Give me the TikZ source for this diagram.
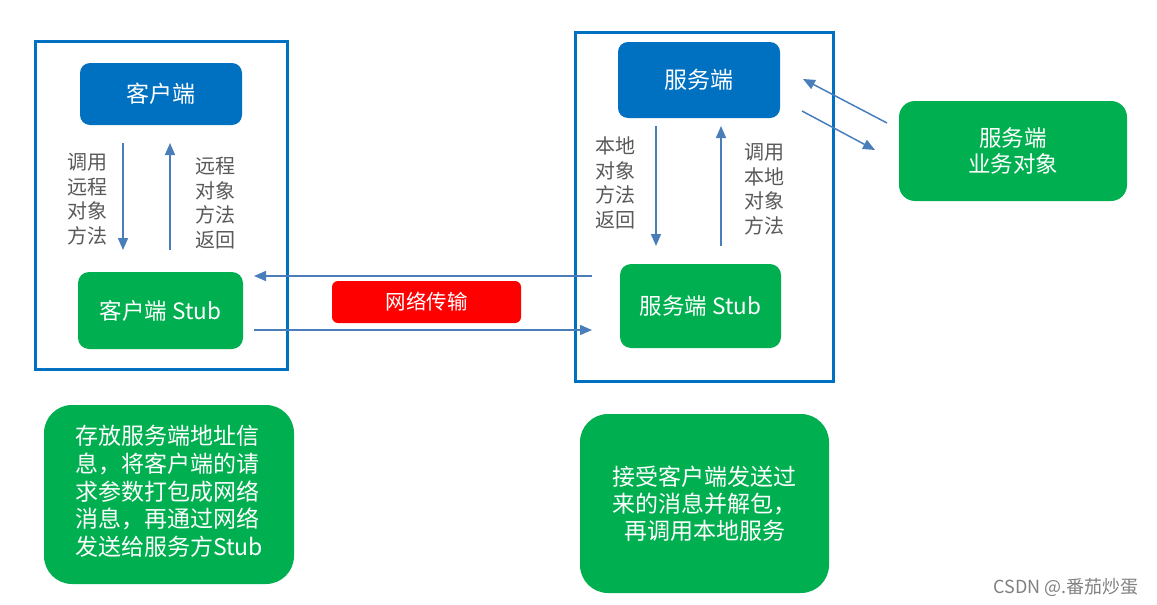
\documentclass[tikz,border=0pt]{standalone}
\usepackage{fontspec}
\setmainfont{Noto Sans CJK SC}
\usetikzlibrary{arrows.meta}
\definecolor{boxblue}{HTML}{0070C0}
\definecolor{boxgreen}{HTML}{00B050}
\definecolor{arrblue}{HTML}{4A7EBB}
\definecolor{labgray}{HTML}{595959}
\definecolor{netred}{HTML}{FF0000}
\begin{document}
\begin{tikzpicture}[x=1pt,y=-1pt,
  bluebox/.style={fill=boxblue,rounded corners=10pt,text=white,inner sep=0pt,font=\fontsize{23}{26}\selectfont},
  greenbox/.style={fill=boxgreen,rounded corners=11pt,text=white,inner sep=0pt,font=\fontsize{22.5}{26}\selectfont},
  notebox/.style={fill=boxgreen,rounded corners=28pt,text=white,inner sep=0pt,font=\fontsize{23}{26.8}\selectfont},
  lab/.style={text=labgray,align=center,inner sep=0pt,font=\fontsize{20}{24.5}\selectfont},
  arr/.style={draw=arrblue,line width=1.5pt,-{Triangle[length=12pt,width=10pt]}}]
\useasboundingbox (0,0) rectangle (1157,605);
% frames
\node[draw=boxblue,line width=3pt,minimum width=252pt,minimum height=328pt,inner sep=0pt] (frameL) at (161,205) {};
\node[draw=boxblue,line width=3pt,minimum width=258pt,minimum height=349pt,inner sep=0pt] (frameR) at (704,206.5) {};
% client side
\node[bluebox,minimum width=162pt,minimum height=62pt] (client) at (161,94) {客户端};
\node[greenbox,minimum width=165pt,minimum height=77pt] (cstub) at (160.5,310.5) {客户端 Stub};
\coordinate (cd1) at (123,143); \coordinate (cd2) at (123,250);
\coordinate (cu1) at (170,250); \coordinate (cu2) at (170,143);
\draw[arr] (cd1) -- (cd2);
\draw[arr] (cu1) -- (cu2);
\node[lab] (lcl) at (87,199) {调用\\远程\\对象\\方法};
\node[lab] (lcr) at (215,203) {远程\\对象\\方法\\返回};
% server side
\node[bluebox,minimum width=162pt,minimum height=76pt] (server) at (699,80) {服务端};
\node[greenbox,minimum width=161pt,minimum height=84pt] (sstub) at (700.5,306) {服务端 Stub};
\coordinate (sd1) at (656,126); \coordinate (sd2) at (656,246);
\coordinate (su1) at (721,246); \coordinate (su2) at (721,126);
\draw[arr] (sd1) -- (sd2);
\draw[arr] (su1) -- (su2);
\node[lab] (lsl) at (615,183) {本地\\对象\\方法\\返回};
\node[lab] (lsr) at (764,189) {调用\\本地\\对象\\方法};
% network
\node[fill=netred,rounded corners=6pt,text=white,inner sep=0pt,minimum width=189pt,minimum height=42pt,font=\fontsize{20.5}{24}\selectfont] (net) at (426.5,302) {网络传输};
\coordinate (n1) at (592,276); \coordinate (n2) at (254,276);
\coordinate (n3) at (254,330); \coordinate (n4) at (592,330);
\draw[arr] (n1) -- (n2);
\draw[arr] (n3) -- (n4);
% business object
\node[greenbox,minimum width=228pt,minimum height=100pt,align=center,rounded corners=16pt] (biz) at (1013,151) {服务端\\业务对象};
\coordinate (b1) at (887,123); \coordinate (b2) at (803,79);
\coordinate (b3) at (802,111); \coordinate (b4) at (875,150);
\draw[arr] (b1) -- (b2);
\draw[arr] (b3) -- (b4);
% notes
\node[notebox,minimum width=250pt,minimum height=179pt] (noteL) at (169,494.5) {\begin{tabular}{@{}l@{}}存放服务端地址信\\息，将客户端的请\\求参数打包成网络\\消息，再通过网络\\发送给服务方Stub\end{tabular}};
\node[notebox,minimum width=249pt,minimum height=179pt,align=center] (noteR) at (704.5,503.5) {接受客户端发送过\\来的消息并解包，\\再调用本地服务};
\node[text=gray,inner sep=0pt,font=\fontsize{18}{21}\selectfont] (wm) at (1066,587) {CSDN @.番茄炒蛋};
\end{tikzpicture}
\end{document}
